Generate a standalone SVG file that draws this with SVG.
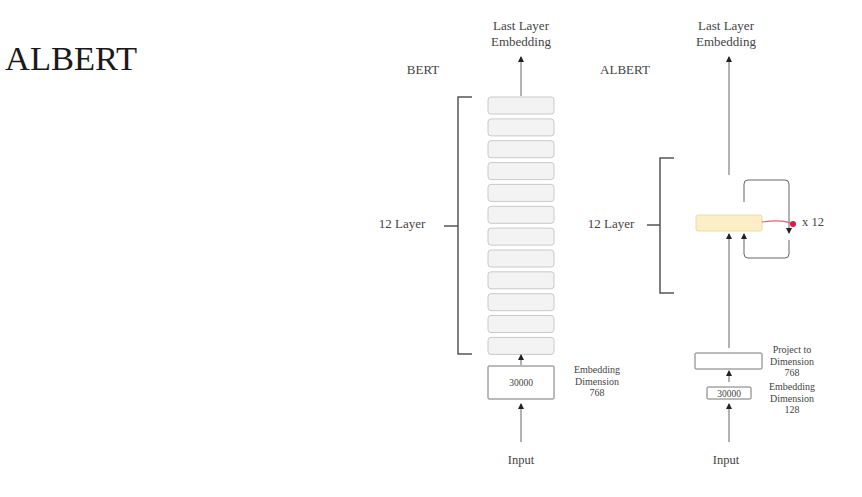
<svg xmlns="http://www.w3.org/2000/svg" width="862" height="497" viewBox="0 0 862 497">
<style>
text{font-family:"Liberation Serif","Times New Roman",serif;fill:#444}
.t13{font-size:13px}
.t10{font-size:10px}
.lyr{fill:#f3f3f3;stroke:#c9c9c9;stroke-width:1}
.ln{fill:none;stroke:#666;stroke-width:1}
.br{fill:none;stroke:#555;stroke-width:1.5}
.box{fill:#fff;stroke:#777;stroke-width:1}
</style>
<defs>
<marker id="ah" viewBox="0 0 6 6" refX="5" refY="3" markerWidth="6" markerHeight="6" orient="auto" markerUnits="userSpaceOnUse">
<path d="M0,0 L6,3 L0,6 z" fill="#222"/>
</marker>
</defs>
<rect width="862" height="497" fill="#fff"/>
<text x="5" y="70" style="font-size:34.5px;fill:#1a1a1a">ALBERT</text>

<g id="bert">
<text class="t13" x="423" y="74" text-anchor="middle">BERT</text>
<text class="t13" x="521" y="30" text-anchor="middle">Last Layer</text>
<text class="t13" x="521" y="46" text-anchor="middle">Embedding</text>
<text class="t13" x="402" y="228" text-anchor="middle">12 Layer</text>
<g id="bert-layers">
<rect class="lyr" x="488" y="97" width="66" height="17" rx="3"/>
<rect class="lyr" x="488" y="118.9" width="66" height="17" rx="3"/>
<rect class="lyr" x="488" y="140.7" width="66" height="17" rx="3"/>
<rect class="lyr" x="488" y="162.6" width="66" height="17" rx="3"/>
<rect class="lyr" x="488" y="184.4" width="66" height="17" rx="3"/>
<rect class="lyr" x="488" y="206.3" width="66" height="17" rx="3"/>
<rect class="lyr" x="488" y="228.1" width="66" height="17" rx="3"/>
<rect class="lyr" x="488" y="250" width="66" height="17" rx="3"/>
<rect class="lyr" x="488" y="271.8" width="66" height="17" rx="3"/>
<rect class="lyr" x="488" y="293.7" width="66" height="17" rx="3"/>
<rect class="lyr" x="488" y="315.5" width="66" height="17" rx="3"/>
<rect class="lyr" x="488" y="337.4" width="66" height="17" rx="3"/>
</g>
<path class="br" d="M472,97 H458 V354 H472 M444,226 H458"/>
<g id="bert-emb">
<rect class="box" x="488" y="366" width="66" height="33" rx="1"/>
<text x="521" y="385.5" text-anchor="middle" style="font-size:9.5px">30000</text>
</g>
<text class="t10" x="597" y="373" text-anchor="middle">Embedding</text>
<text class="t10" x="597" y="384.5" text-anchor="middle">Dimension</text>
<text class="t10" x="597" y="396" text-anchor="middle">768</text>
<text x="521" y="464" text-anchor="middle" style="font-size:12.5px">Input</text>
</g>

<g id="albert">
<text class="t13" x="625" y="74" text-anchor="middle">ALBERT</text>
<text class="t13" x="726" y="30" text-anchor="middle">Last Layer</text>
<text class="t13" x="726" y="46" text-anchor="middle">Embedding</text>
<text class="t13" x="611" y="228" text-anchor="middle">12 Layer</text>
<path class="br" d="M674,158 H660 V293 H674 M647,225 H660"/>
<g id="albert-layer">
<rect x="696" y="215" width="66" height="16" rx="2" fill="#fcefc7" stroke="#eadba6" stroke-width="1"/>
</g>
<g id="albert-proj">
<rect class="box" x="695" y="353" width="67" height="16" rx="1"/>
</g>
<text class="t10" x="792" y="353" text-anchor="middle">Project to</text>
<text class="t10" x="792" y="364.5" text-anchor="middle">Dimension</text>
<text class="t10" x="792" y="376" text-anchor="middle">768</text>
<g id="albert-emb">
<rect class="box" x="707" y="387" width="44" height="12" rx="1"/>
<text x="729" y="396.5" text-anchor="middle" style="font-size:9.5px">30000</text>
</g>
<text class="t10" x="792" y="390" text-anchor="middle">Embedding</text>
<text class="t10" x="792" y="401.5" text-anchor="middle">Dimension</text>
<text class="t10" x="792" y="413" text-anchor="middle">128</text>
<text x="726" y="464" text-anchor="middle" style="font-size:12.5px">Input</text>
<text x="802" y="226" style="font-size:12.5px">x 12</text>
</g>

<g id="connectors">
<path class="ln" d="M521,96 V57" marker-end="url(#ah)"/>
<path class="ln" d="M521,365 V355" marker-end="url(#ah)"/>
<path class="ln" d="M521,442 V404" marker-end="url(#ah)"/>
<path class="ln" d="M729,175 V57" marker-end="url(#ah)"/>
<path class="ln" d="M729,348 V234" marker-end="url(#ah)"/>
<path class="ln" d="M729,382 V371" marker-end="url(#ah)"/>
<path class="ln" d="M729,442 V404" marker-end="url(#ah)"/>
<path class="ln" d="M744,202 V184 Q744,180 748,180 H785 Q789,180 789,184 V233" marker-end="url(#ah)"/>
<path class="ln" d="M789,240 V254 Q789,258 785,258 H748 Q744,258 744,254 V234" marker-end="url(#ah)"/>
<path d="M762,222 C775,220 785,220 793,224" fill="none" stroke="#e85a78" stroke-width="1.2"/>
<circle cx="793" cy="224" r="3" fill="#d6204a"/>
</g>
</svg>
